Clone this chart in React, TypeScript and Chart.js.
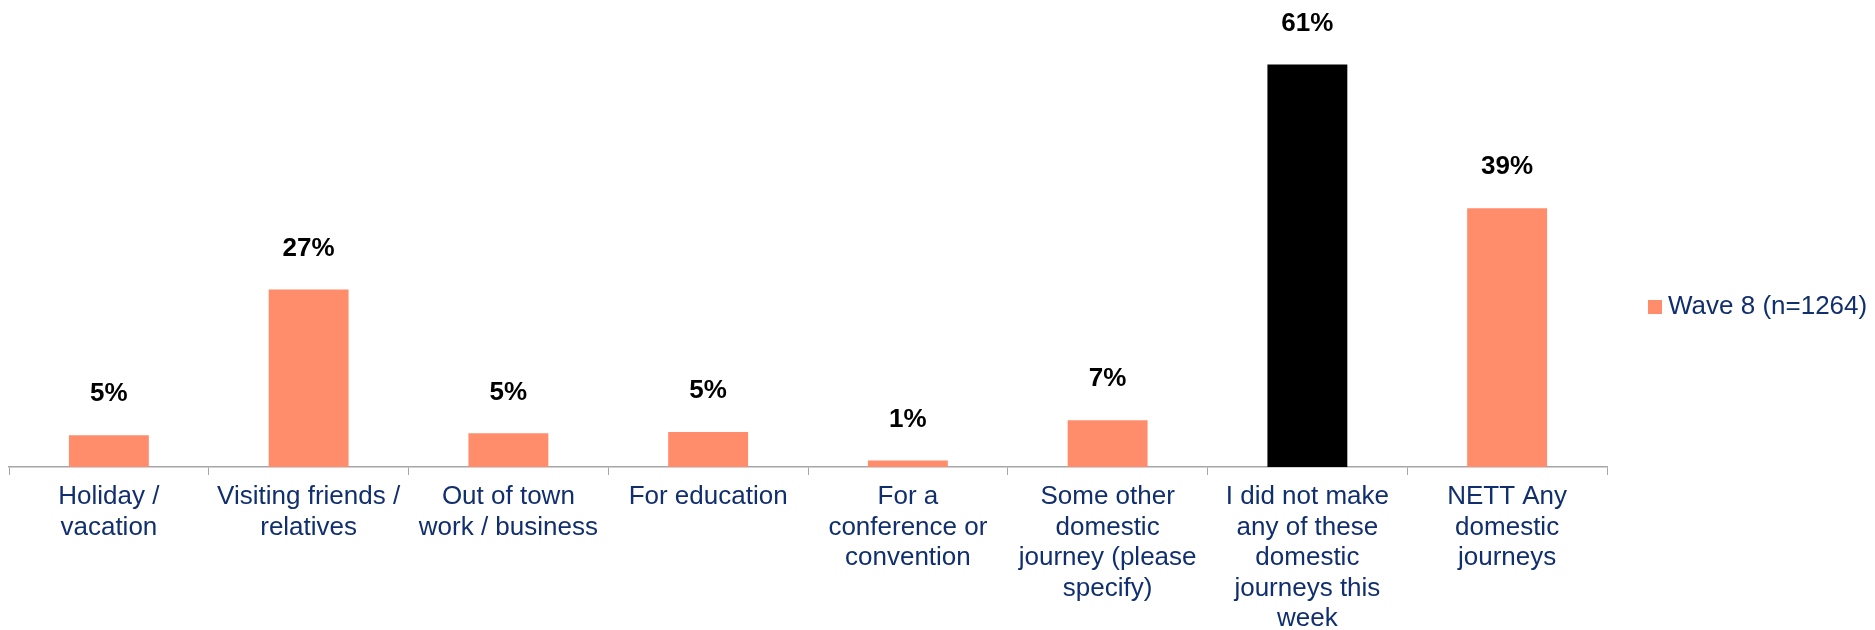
import React, { useEffect, useRef } from "react";
import { Chart, registerables } from "chart.js";

Chart.register(...registerables);

const categories: string[][] = [
  ["Holiday /", "vacation"],
  ["Visiting friends /", "relatives"],
  ["Out of town", "work / business"],
  ["For education"],
  ["For a", "conference or", "convention"],
  ["Some other", "domestic", "journey (please", "specify)"],
  ["I did not make", "any of these", "domestic", "journeys this", "week"],
  ["NETT Any", "domestic", "journeys"],
];
const values: number[] = [4.8, 26.9, 5.1, 5.3, 1.0, 7.1, 61, 39.2];
const valueLabels: string[] = ["5%", "27%", "5%", "5%", "1%", "7%", "61%", "39%"];
const seriesName = "Wave 8 (n=1264)";
const barColors: string[] = ["#FF8C6B", "#FF8C6B", "#FF8C6B", "#FF8C6B", "#FF8C6B", "#FF8C6B", "#000000", "#FF8C6B"];

const FONT = "'Liberation Sans', Arial, sans-serif";
const NAVY = "#112f6e";

const valueLabelPlugin = {
  id: "valueLabels",
  afterDatasetsDraw(chart: any) {
    const ctx = chart.ctx;
    const meta = chart.getDatasetMeta(0);
    ctx.save();
    ctx.font = `bold 26px ${FONT}`;
    ctx.fillStyle = "#000";
    ctx.textAlign = "center";
    ctx.textBaseline = "middle";
    meta.data.forEach((bar: any, i: number) => {
      ctx.fillText(valueLabels[i], bar.x, bar.y - 41);
    });
    ctx.restore();
  },
};

const customLegendPlugin = {
  id: "customLegend",
  afterDraw(chart: any) {
    const ctx = chart.ctx;
    const area = chart.chartArea;
    const x = area.right + 41;
    const y = 307;
    ctx.save();
    ctx.fillStyle = "#FF8C6B";
    ctx.fillRect(x, y - 7, 14, 14);
    ctx.font = `26px ${FONT}`;
    ctx.fillStyle = NAVY;
    ctx.textAlign = "left";
    ctx.textBaseline = "middle";
    ctx.fillText(seriesName, x + 20, y);
    ctx.restore();
  },
};

export default function App() {
  const ref = useRef<HTMLCanvasElement | null>(null);
  useEffect(() => {
    document.body.style.margin = "0";
    if (!ref.current) return;
    const chart = new Chart(ref.current, {
      type: "bar",
      data: {
        labels: categories,
        datasets: [
          {
            label: seriesName,
            data: values,
            backgroundColor: barColors,
            categoryPercentage: 1,
            barPercentage: 0.4,
          },
        ],
      },
      options: {
        responsive: false,
        animation: false,
        layout: { padding: { left: 9, right: 268, top: 5, bottom: 0 } },
        plugins: {
          legend: { display: false },
          tooltip: { enabled: false },
        },
        scales: {
          y: {
            display: false,
            min: 0,
            max: 70,
          },
          x: {
            offset: true,
            grid: {
              display: true,
              offset: true,
              drawOnChartArea: false,
              drawTicks: true,
              tickLength: 8,
              color: "#A6A6A6",
            },
            border: { display: true, color: "#A6A6A6", width: 1.5 },
            ticks: {
              color: NAVY,
              font: { family: FONT, size: 26, lineHeight: 1.17 },
              maxRotation: 0,
              minRotation: 0,
              autoSkip: false,
              padding: 7,
            },
            afterFit: (scale: any) => {
              scale.height = 163;
            },
          },
        },
      },
      plugins: [valueLabelPlugin, customLegendPlugin],
    });
    return () => chart.destroy();
  }, []);
  return (
    <div style={{ width: 1875, height: 630 }}>
      <canvas ref={ref} width={1875} height={630} style={{ display: "block" }} />
    </div>
  );
}
